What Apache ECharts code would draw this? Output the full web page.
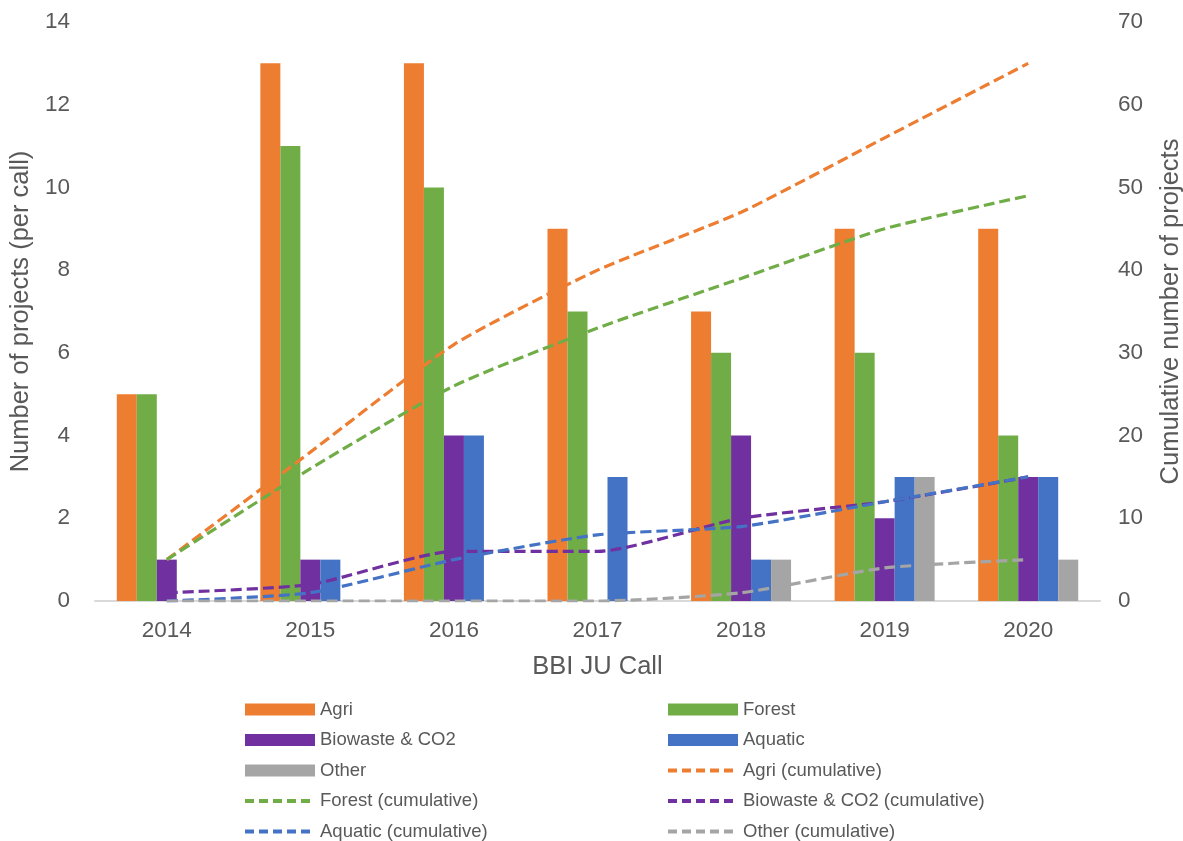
<!DOCTYPE html>
<html>
<head>
<meta charset="utf-8">
<script src="https://cdn.jsdelivr.net/npm/echarts@6/dist/echarts.min.js"></script>
<style>
  html, body { margin: 0; padding: 0; background: #fff; }
  #chart { width: 1183px; height: 841px; }
</style>
</head>
<body>
<div id="chart"></div>
<script>
// BBI JU calls
const years = ['2014', '2015', '2016', '2017', '2018', '2019', '2020'];

// Projects funded per call
const agri      = [5, 13, 13, 9, 7, 9, 9];
const forest    = [5, 11, 10, 7, 6, 6, 4];
const biowaste  = [1, 1, 4, 0, 4, 2, 3];
const aquatic   = [0, 1, 4, 3, 1, 3, 3];
const other     = [0, 0, 0, 0, 1, 3, 1];

// Running totals
const agriCum     = [5, 18, 31, 40, 47, 56, 65];
const forestCum   = [5, 16, 26, 33, 39, 45, 49];
const biowasteCum = [1, 2, 6, 6, 10, 12, 15];
const aquaticCum  = [0, 1, 5, 8, 9, 12, 15];
const otherCum    = [0, 0, 0, 0, 1, 4, 5];

const leftTicks = { min: 0, max: 14, interval: 2 };
const rightTicks = { min: 0, max: 70, interval: 10 };

const C = {
  agri: '#ED7D31', forest: '#70AD47', bio: '#7030A0', aqua: '#4472C4', other: '#A5A5A5'
};
const FONT = '"Liberation Sans", Arial, sans-serif';
const TXT = '#595959';
const TICK_SIZE = 22.5;
const NAME_SIZE = 25.5;

function bar(name, data, color) {
  return {
    name, type: 'bar', data, yAxisIndex: 0, barWidth: 20, barGap: '0%',
    itemStyle: { color }
  };
}
function cum(name, data, color) {
  return {
    name, type: 'line', data, yAxisIndex: 1, smooth: 0.2, symbol: 'none',
    showSymbol: false,
    lineStyle: { color, width: 3.2, type: [11, 5] }, itemStyle: { color }, z: 5
  };
}

// Legend entries: bars as flat rectangles, lines as a dashed stroke only
function barItem(name) { return { name, icon: 'rect' }; }
function lineItem(name) {
  return { name, itemStyle: { opacity: 0, borderWidth: 0 }, lineStyle: { width: 4, type: [9, 5] } };
}

const legendCommon = {
  orient: 'vertical', itemWidth: 70, itemHeight: 12, itemGap: 11.5, height: 160,
  textStyle: { fontFamily: FONT, fontSize: 18.5, color: TXT, lineHeight: 19 },
  selectedMode: false
};

const chart = echarts.init(document.getElementById('chart'), null, { renderer: 'canvas' });
chart.setOption({
  backgroundColor: '#fff',
  animation: false,
  textStyle: { fontFamily: FONT },
  grid: {
    left: 95, right: 83, top: 22, bottom: 240,
    containLabel: false, outerBoundsMode: 'none'
  },
  legend: [
    Object.assign({}, legendCommon, {
      left: 238, top: 695,
      data: [barItem('Agri'), barItem('Biowaste & CO2'), barItem('Other'),
             lineItem('Forest (cumulative)'), lineItem('Aquatic (cumulative)')]
    }),
    Object.assign({}, legendCommon, {
      left: 661, top: 695,
      data: [barItem('Forest'), barItem('Aquatic'), lineItem('Agri (cumulative)'),
             lineItem('Biowaste & CO2 (cumulative)'), lineItem('Other (cumulative)')]
    })
  ],
  xAxis: {
    type: 'category', data: years,
    name: 'BBI JU Call', nameLocation: 'middle', nameGap: 53,
    nameTextStyle: { fontSize: NAME_SIZE, color: TXT, fontFamily: FONT },
    axisLine: { lineStyle: { color: '#D9D9D9', width: 2 } },
    axisTick: { show: false },
    axisLabel: { fontSize: TICK_SIZE, color: TXT, margin: 18, fontFamily: FONT }
  },
  yAxis: [
    {
      type: 'value', min: leftTicks.min, max: leftTicks.max, interval: leftTicks.interval,
      name: 'Number of projects (per call)', nameLocation: 'middle', nameGap: 60,
      nameTextStyle: { fontSize: NAME_SIZE, color: TXT, fontFamily: FONT },
      axisLine: { show: false }, axisTick: { show: false }, splitLine: { show: false },
      axisLabel: { fontSize: TICK_SIZE, color: TXT, margin: 25, fontFamily: FONT }
    },
    {
      type: 'value', min: rightTicks.min, max: rightTicks.max, interval: rightTicks.interval,
      name: 'Cumulative number of projects', nameLocation: 'middle', nameGap: 58,
      nameTextStyle: { fontSize: NAME_SIZE, color: TXT, fontFamily: FONT },
      axisLine: { show: false }, axisTick: { show: false }, splitLine: { show: false },
      axisLabel: { fontSize: TICK_SIZE, color: TXT, margin: 18, fontFamily: FONT }
    }
  ],
  series: [
    bar('Agri', agri, C.agri),
    bar('Forest', forest, C.forest),
    bar('Biowaste & CO2', biowaste, C.bio),
    bar('Aquatic', aquatic, C.aqua),
    bar('Other', other, C.other),
    cum('Agri (cumulative)', agriCum, C.agri),
    cum('Forest (cumulative)', forestCum, C.forest),
    cum('Biowaste & CO2 (cumulative)', biowasteCum, C.bio),
    cum('Aquatic (cumulative)', aquaticCum, C.aqua),
    cum('Other (cumulative)', otherCum, C.other)
  ]
});
</script>
</body>
</html>
